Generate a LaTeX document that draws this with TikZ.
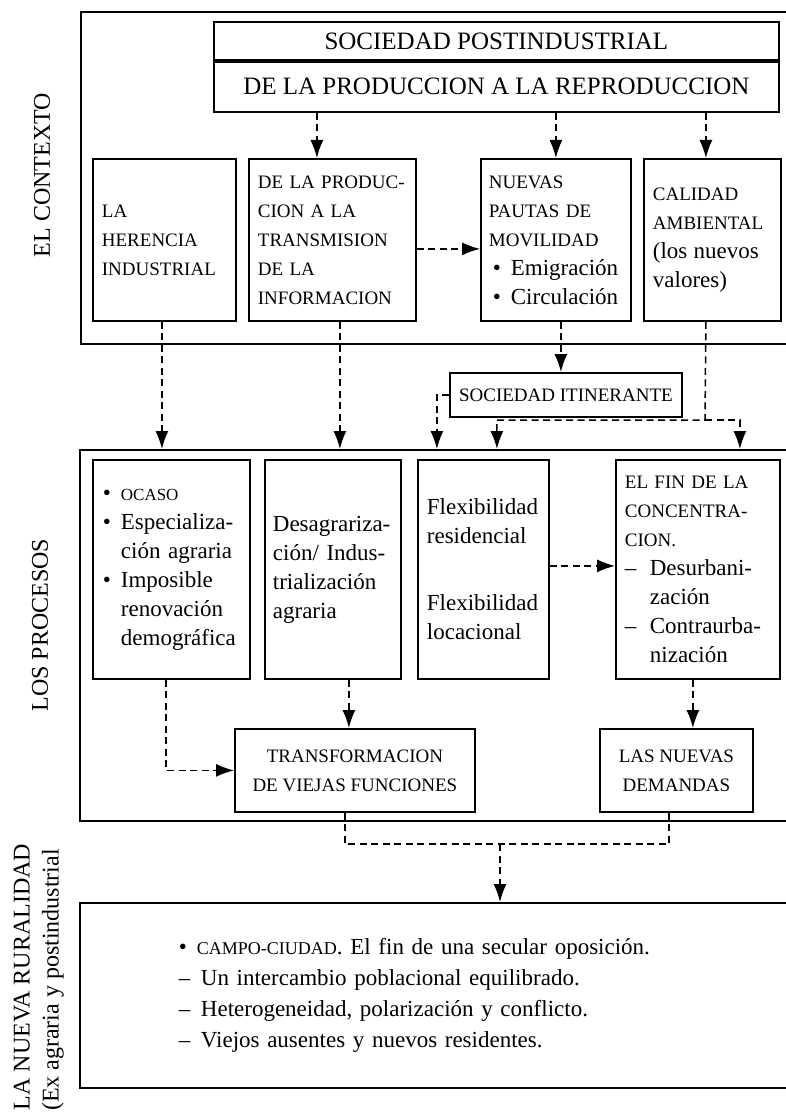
\documentclass[tikz,border=0pt]{standalone}
\usepackage{fontspec}
\setmainfont{Liberation Serif}
\usepackage{tikz}
\usetikzlibrary{arrows.meta,positioning}

\newcommand\boxcaps{\fontsize{19}{29}\selectfont}
\newcommand\boxbody{\fontsize{23}{29}\selectfont}
\newcommand\bul{\makebox[18pt][l]{•}}
\newcommand\dsh{\makebox[25pt][l]{–}}

\begin{document}
\begin{tikzpicture}[
  x=1pt, y=-1pt,
  >={Latex[length=18pt,width=13pt]},
  frame/.style={
    draw,
    line width=1.9pt,
    anchor=north west,
    inner sep=0pt,
    minimum width=760pt
  },
  head/.style={
    draw,
    line width=1.8pt,
    anchor=north west,
    minimum width=565pt,
    inner sep=0pt,
    font=\fontsize{25}{30}\selectfont
  },
  box/.style={
    draw,
    line width=1.8pt,
    anchor=north west,
    align=left,
    inner xsep=8pt,
    inner ysep=0pt,
    font=\boxcaps
  },
  midbox/.style={box, align=center, inner xsep=0pt},
  side/.style={rotate=90, font=\fontsize{24}{28}\selectfont},
  flow/.style={->, line width=1.5pt, dash pattern=on 7pt off 4.5pt},
  link/.style={line width=1.5pt, dash pattern=on 7pt off 4.5pt}
]

\useasboundingbox (0,0) rectangle (786,1115);
\clip (0,0) rectangle (786,1115);

\node[frame, minimum height=332pt] (contexto) at (80,11) {};
\node[frame, minimum height=371pt] (procesos) at (79,449) {};

\node[side] (ctxlabel) at (42,175) {EL CONTEXTO};
\node[side] (proclabel) at (40,625) {LOS PROCESOS};
\node[side] (rurlabel) at (22,977) {LA NUEVA RURALIDAD};
\node[side] (exlabel) at (53,980) {(Ex agraria y postindustrial};

\node[head, minimum height=38pt] (soc) at (213,21)
  {SOCIEDAD POSTINDUSTRIAL};
\node[head, minimum height=50pt, below=0pt of soc.south west, anchor=north west] (repro)
  {DE LA PRODUCCION A LA REPRODUCCION};

\node[box, minimum height=162pt, text width=125pt, inner xsep=9pt] (heren) at (92,158)
  {LA\\ HERENCIA\\ INDUSTRIAL};
\node[box, minimum height=162pt, text width=149pt, inner xsep=9pt] (trans) at (248,158)
  {DE LA PRODUC-\\ CION A LA\\ TRANSMISION\\ DE LA\\ INFORMACION};
\node[box, minimum height=162pt, text width=134pt] (movil) at (480,158)
  {NUEVAS\\ PAUTAS DE\\ MOVILIDAD\\
   {\boxbody\hspace*{4pt}\bul Emigración}\\
   {\boxbody\hspace*{4pt}\bul Circulación}};
\node[box, minimum height=162pt, text width=119pt, inner xsep=9pt] (calidad) at (643,158)
  {CALIDAD\\ AMBIENTAL\\ {\boxbody(los nuevos}\\ {\boxbody valores)}};

\node[midbox, minimum width=232pt, minimum height=44pt] (itin) at (449,372)
  {SOCIEDAD ITINERANTE};

\node[box, minimum height=219pt, text width=137pt, inner xsep=10pt, font=\boxbody] (ocaso) at (92,459)
  {\bul{\fontsize{17}{29}\selectfont OCASO}\\
   \bul Especializa-\\ \hspace*{18pt}ción agraria\\
   \bul Imposible\\ \hspace*{18pt}renovación\\ \hspace*{18pt}demográfica};
\node[box, minimum height=219pt, text width=120pt, font=\boxbody] (desagr) at (264,459)
  {Desagrariza-\\ ción/ Indus-\\ trialización\\ agraria};
\node[box, minimum height=219pt, text width=113pt, inner xsep=9pt, font=\boxbody] (flex) at (417,459)
  {Flexibilidad\\ residencial\\[38pt] Flexibilidad\\ locacional};
\node[box, minimum height=219pt, text width=146pt, inner xsep=9pt] (finc) at (615,459)
  {EL FIN DE LA\\ CONCENTRA-\\ CION.\\
   {\boxbody\dsh Desurbani-}\\ {\boxbody\hspace*{25pt}zación}\\
   {\boxbody\dsh Contraurba-}\\ {\boxbody\hspace*{25pt}nización}};

\node[midbox, minimum width=240pt, minimum height=83pt] (transf) at (234,728)
  {TRANSFORMACION\\ DE VIEJAS FUNCIONES};
\node[midbox, minimum width=153pt, minimum height=83pt] (demand) at (599,728)
  {LAS NUEVAS\\ DEMANDAS};

\node[frame, minimum height=185pt, text width=600pt, inner xsep=99pt, align=left,
  font=\fontsize{23}{31}\selectfont] (rural) at (79,902)
  {\bul{\fontsize{18}{31}\selectfont CAMPO-CIUDAD}. El fin de una secular oposición.\\
   \makebox[22pt][l]{–}Un intercambio poblacional equilibrado.\\
   \makebox[22pt][l]{–}Heterogeneidad, polarización y conflicto.\\
   \makebox[22pt][l]{–}Viejos ausentes y nuevos residentes.};

\draw[flow] ([xshift=-15.5pt]trans.north |- repro.south) -- ([xshift=-15.5pt]trans.north);
\draw[flow] (movil.north |- repro.south) -- (movil.north);
\draw[flow] ([xshift=-6.5pt]calidad.north |- repro.south) -- ([xshift=-6.5pt]calidad.north);
\draw[flow] ([yshift=-9pt]trans.east) -- ([yshift=-9pt]trans.east -| movil.west);

\draw[flow] ([xshift=-2.5pt]heren.south) -- ([xshift=-2.5pt]heren.south |- procesos.north);
\draw[flow] ([xshift=7.5pt]trans.south) -- ([xshift=7.5pt]trans.south |- procesos.north);
\draw[flow] ([xshift=5pt]movil.south) -- ([xshift=5pt]movil.south |- itin.north);
\draw[flow] (itin.west) -| ([xshift=-46.5pt]flex.north |- procesos.north);

\coordinate (split) at (705,420);
\draw[flow] ([xshift=-6.5pt]calidad.south) -- (split) -| ([xshift=13.5pt]flex.north |- procesos.north);
\draw[flow] (split) -| ([xshift=42pt]finc.north |- procesos.north);

\draw[flow] ([yshift=3.5pt]flex.east) -- ([yshift=3.5pt]flex.east -| finc.west);
\draw[flow] ([xshift=16pt]desagr.south) -- ([xshift=16pt]desagr.south |- transf.north);
\draw[flow] ([xshift=-5pt]finc.south) -- ([xshift=-5pt]finc.south |- demand.north);
\draw[flow] ([xshift=-5.5pt]ocaso.south) |- (transf.west);

\coordinate (merge) at (500,844);
\draw[link] ([xshift=-10pt]transf.south) |- (merge);
\draw[link] ([xshift=-7.5pt]demand.south) |- (merge);
\draw[flow] (merge) -- (merge |- rural.north);

\end{tikzpicture}
\end{document}
